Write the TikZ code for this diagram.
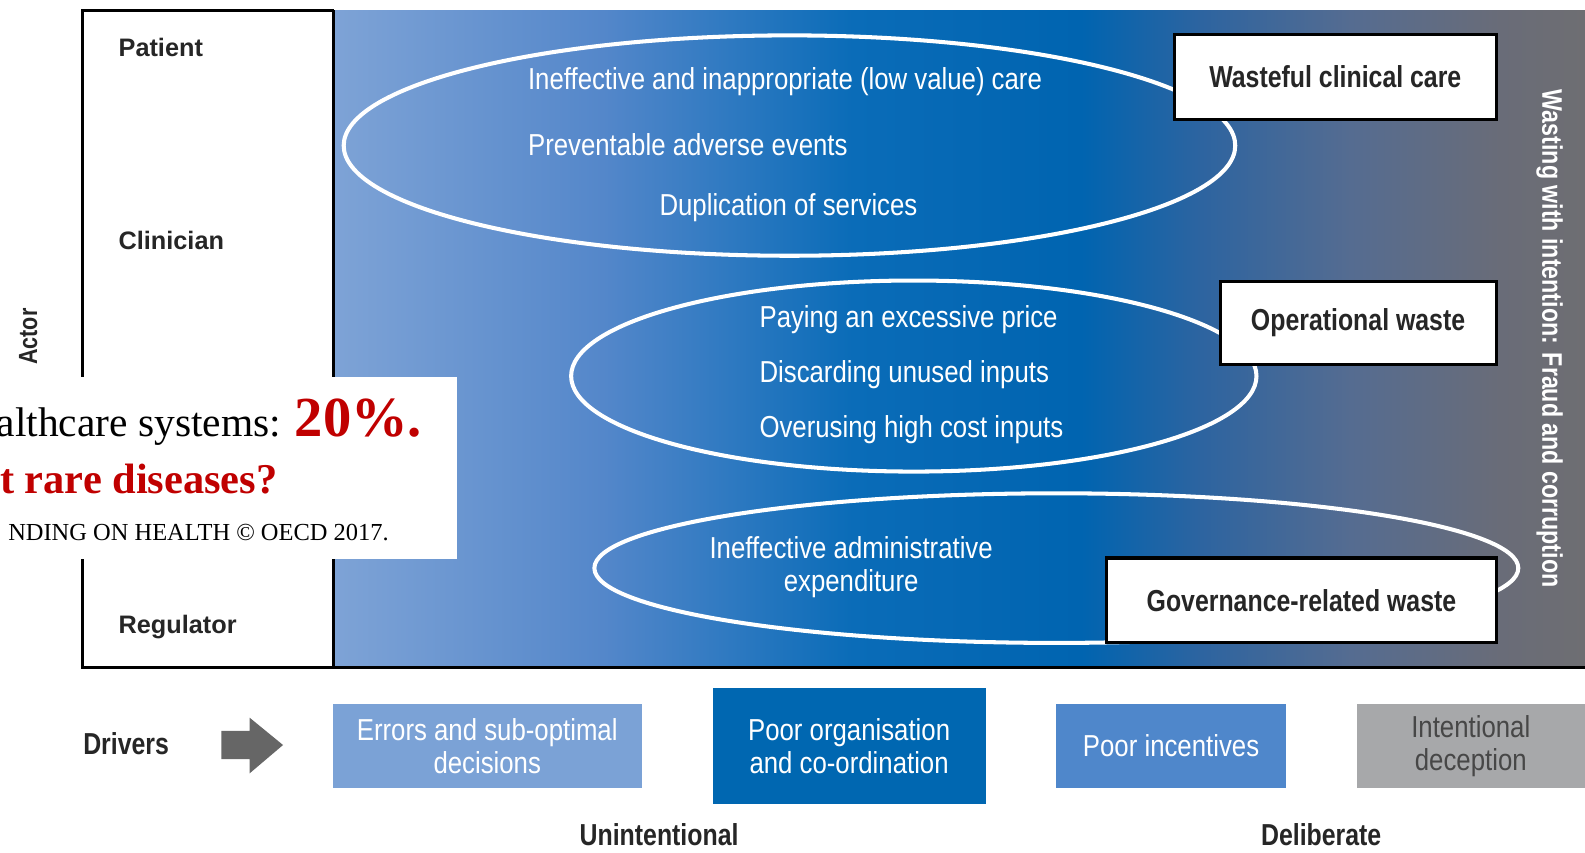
\documentclass[tikz,border=0pt]{standalone}
\usepackage{fontspec}
\setmainfont{Liberation Sans}
\newfontfamily\condfont[FakeStretch=0.85]{Liberation Sans}
\newfontfamily\condbfont[FakeStretch=0.82]{Liberation Sans}
\newfontfamily\slidefont{Liberation Serif}
\usetikzlibrary{shapes.geometric, positioning}

\definecolor{bgA}{RGB}{126,163,214}
\definecolor{bgB}{RGB}{84,135,202}
\definecolor{bgC}{RGB}{10,108,184}
\definecolor{bgD}{RGB}{0,100,176}
\definecolor{bgE}{RGB}{45,100,160}
\definecolor{bgF}{RGB}{85,108,145}
\definecolor{bgG}{RGB}{105,108,120}
\definecolor{bgH}{RGB}{110,110,114}
\definecolor{errblue}{RGB}{123,162,214}
\definecolor{orgblue}{RGB}{0,103,177}
\definecolor{incblue}{RGB}{79,135,203}
\definecolor{decgray}{RGB}{167,168,170}
\definecolor{arrowgray}{RGB}{102,102,102}
\definecolor{slidered}{RGB}{192,0,0}

\pgfdeclarehorizontalshading{wasteshade}{100bp}{color(0bp)=(bgA); color(25bp)=(bgA); color(35.76bp)=(bgB); color(45.7bp)=(bgC); color(54.88bp)=(bgD); color(59.66bp)=(bgE); color(65.64bp)=(bgF); color(71.6bp)=(bgG); color(75bp)=(bgH); color(100bp)=(bgH)}

\begin{document}
\begin{tikzpicture}[
    x=0.5pt, y=-0.5pt,
    waste/.style={ellipse, draw=white, line width=2pt, inner sep=0pt},
    wastebox/.style={rectangle, draw=black, line width=1.5pt, fill=white, inner sep=0pt, text=black!85, font=\condbfont\bfseries\fontsize{15}{18}\selectfont},
    item/.style={text=white, inner sep=0pt, font=\condfont\fontsize{15}{16}\selectfont},
    actor/.style={anchor=west, inner sep=0pt, text=black!85, font=\bfseries\fontsize{12.5}{15}\selectfont},
    axislabel/.style={inner sep=0pt, text=black!85, font=\condbfont\bfseries\fontsize{15}{18}\selectfont},
    driver/.style={rectangle, inner sep=0pt, align=center, text=white, font=\condfont\fontsize{15}{16}\selectfont},
    slide/.style={inner sep=0pt, font=\slidefont}
]
    \useasboundingbox (0,0) rectangle (1568,843);
    \fill[white] (0,0) rectangle (1568,843);

    % Background and actor column
    \shade[shading=wasteshade] (330,10) rectangle (1568,660);
    \draw[line width=1.5pt] (330,10) -- (82,10) -- (82,660) -- (1568,660);
    \draw[line width=1.5pt] (330,10) -- (330,660);

    % Ellipses
    \node[waste, minimum width=441pt, minimum height=109pt] (clinical) at (781,144) {};
    \node[waste, minimum width=339pt, minimum height=94.5pt] (operational) at (904,372) {};
    \node[waste, minimum width=457pt, minimum height=74pt] (governance) at (1045,562) {};

    % Items
    \node[item, anchor=west] (lowvalue) at (522,81) {Ineffective and inappropriate (low value) care};
    \node[item, anchor=west] (adverse) at (522,143) {Preventable adverse events};
    \node[item] (duplication) at (780,205) {Duplication of services};
    \node[item, anchor=west] (price) at (751,316) {Paying an excessive price};
    \node[item, anchor=west] (discard) at (751,371) {Discarding unused inputs};
    \node[item, anchor=west] (overuse) at (751,425) {Overusing high cost inputs};
    \node[item, align=center] (admin) at (842,561) {Ineffective administrative\\expenditure};

    % Waste categories
    \node[wastebox, minimum width=159pt, minimum height=42pt] (wasteful) at (1321,76) {Wasteful clinical care};
    \node[wastebox, minimum width=136.5pt, minimum height=41.5pt] (opwaste) at (1343.5,319.5) {Operational waste};
    \node[wastebox, minimum width=192.5pt, minimum height=42pt] (govwaste) at (1287.5,594) {Governance-related waste};

    % Side labels
    \node[inner sep=0pt, text=white, rotate=-90, font=\condbfont\bfseries\fontsize{14}{16}\selectfont] (fraud) at (1533,335) {Wasting with intention: Fraud and corruption};
    \node[axislabel, rotate=90, font=\condbfont\bfseries\fontsize{13}{15}\selectfont] (actorlabel) at (28,333) {Actor};
    \node[actor] (patient) at (117,47) {Patient};
    \node[actor] (clinician) at (117,238) {Clinician};
    \node[actor] (regulator) at (117,620) {Regulator};

    % Drivers
    \node[axislabel, anchor=west] (drivers) at (82,736) {Drivers};
    \fill[arrowgray] (219,723) -- (247,723) -- (247,710) -- (280,737) -- (247,765) -- (247,751) -- (219,751) -- cycle;
    \node[driver, fill=errblue, minimum width=153pt, minimum height=42pt] (errors) at (482,738) {Errors and sub-optimal\\decisions};
    \node[driver, fill=orgblue, minimum width=135pt, minimum height=57pt] (organisation) at (840,738) {Poor organisation\\and co-ordination};
    \node[driver, fill=incblue, minimum width=113.5pt, minimum height=42pt] (incentives) at (1158.5,738) {Poor incentives};
    \node[driver, fill=decgray, text=black!72, minimum width=113pt, minimum height=42pt] (deception) at (1455,738) {Intentional\\deception};
    \node[axislabel] (unintentional) at (652,826) {Unintentional};
    \node[axislabel] (deliberate) at (1307,826) {Deliberate};

    % Overlaid slide text
    \begin{scope}
        \clip (0,373) rectangle (452,553);
        \fill[white] (0,373) rectangle (452,553);
        \node[slide, anchor=base east, font=\slidefont\fontsize{20.5}{24}\selectfont] (share) at (418,432) {althcare systems: \textcolor{slidered}{\bfseries\fontsize{28}{30}\selectfont 20\%.}};
        \node[slide, anchor=base east, text=slidered, font=\slidefont\bfseries\fontsize{21}{24}\selectfont] (rare) at (275,488) {t rare diseases?};
        \node[slide, anchor=base east, font=\slidefont\fontsize{12.1}{14}\selectfont] (source) at (385,535) {NDING ON HEALTH © OECD 2017.};
    \end{scope}
\end{tikzpicture}
\end{document}
